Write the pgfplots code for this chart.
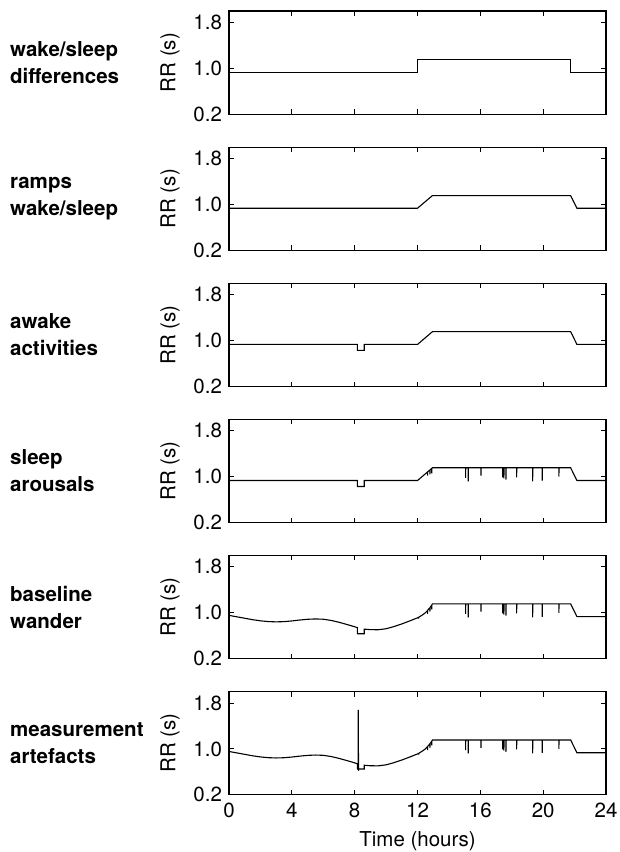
\documentclass[border=0pt]{standalone}
\usepackage{fontspec}
\setmainfont{TeX Gyre Heros}
\usepackage{pgfplots}
\pgfplotsset{compat=1.18}
\pgfplotsset{
 panel/.style={
  scale only axis, width=377bp, height=103.3bp,
  anchor=north west,
  xmin=0,xmax=24, ymin=0.2,ymax=2.0,
  xtick={0,4,...,24}, ytick={0.2,1.0,1.8},
  yticklabel style={/pgf/number format/.cd,fixed,fixed zerofill,precision=1},
  xticklabel style={yshift=-1bp},
  tick align=inside, major tick length=5bp,
  axis line style={line width=1.2bp}, tick style={line width=0.9bp,black},
  /pgf/number format/assume math mode=true,
  ylabel={RR (s)},
  ylabel style={at={(axis description cs:-0.112,0.5)},anchor=south},
  xlabel style={at={(axis description cs:0.5,0)},anchor=north,inner sep=0pt,yshift=-37bp},
  no markers,
  cycle list={{black}},
  every axis plot post/.append style={line width=1.1bp,line join=miter,miter limit=2},
 },
 notx/.style={xticklabel=\empty},
}
\begin{document}
\fontsize{20.5bp}{27bp}\selectfont
\begin{tikzpicture}
\useasboundingbox (0bp,0bp) rectangle (620bp,-852bp);
% panel 1
\begin{axis}[panel,notx,at={(229bp,-11bp)}]
\addplot coordinates {(0,0.935)(12,0.935)(12,1.157)(21.75,1.157)(21.75,0.935)(24,0.935)};
\end{axis}
% panel 2
\begin{axis}[panel,notx,at={(229bp,-147.1bp)}]
\addplot coordinates {(0,0.935)(12,0.935)(12.95,1.155)(21.75,1.155)(22.15,0.935)(24,0.935)};
\end{axis}
% panel 3
\begin{axis}[panel,notx,at={(229bp,-283.2bp)}]
\addplot coordinates {(0,0.933)(8.17,0.933)(8.17,0.83)(8.61,0.83)(8.61,0.933)(12,0.933)(12.95,1.155)(21.75,1.155)(22.15,0.933)(24,0.933)};
\end{axis}
% panel 4
\begin{axis}[panel,notx,at={(229bp,-419.3bp)}]
\addplot coordinates {(0,0.933)(8.17,0.933)(8.17,0.83)(8.61,0.83)(8.61,0.933)(12,0.933)
(12.64,1.083)(12.64,1.02)(12.65,1.085)(12.79,1.118)(12.79,1.04)(12.80,1.12)(12.91,1.146)(12.91,1.06)(12.92,1.148)(12.95,1.155)
(15.06,1.155)(15.06,0.98)(15.07,1.155)(15.23,1.155)(15.23,0.92)(15.24,1.155)(16.04,1.155)(16.04,1.02)(16.05,1.155)
(17.42,1.155)(17.42,0.99)(17.43,1.155)(17.5,1.155)(17.5,0.97)(17.51,1.155)(17.63,1.155)(17.63,0.95)(17.64,1.155)
(18.31,1.155)(18.31,0.99)(18.32,1.155)(19.33,1.155)(19.33,0.92)(19.34,1.155)(19.94,1.155)(19.94,0.93)(19.95,1.155)
(21.0,1.155)(21.0,1.0)(21.01,1.155)(21.75,1.155)(22.15,0.933)(24,0.933)};
\end{axis}
% panel 5
\begin{axis}[panel,notx,at={(229bp,-555.4bp)}]
\addplot coordinates {(0,0.955)(0.5,0.93)(1,0.905)(1.5,0.88)(2,0.86)(2.5,0.847)(3,0.842)(3.5,0.846)(4,0.858)(4.5,0.874)(5,0.887)(5.5,0.893)(6,0.888)(6.5,0.867)(7,0.835)(7.5,0.797)(8,0.757)(8.17,0.742)(8.17,0.635)(8.61,0.635)(8.61,0.715)(9,0.706)(9.5,0.705)(10,0.722)(10.5,0.76)(11,0.806)(11.5,0.858)(12,0.912)
(12.06,0.92)(12.07,0.90)(12.09,0.925)(12.3,0.96)(12.5,1.0)
(12.64,1.04)(12.64,0.98)(12.65,1.045)(12.79,1.09)(12.79,1.02)(12.80,1.095)(12.91,1.135)(12.91,1.06)(12.92,1.14)(12.95,1.155)
(15.06,1.155)(15.06,0.98)(15.07,1.155)(15.23,1.155)(15.23,0.92)(15.24,1.155)(16.04,1.155)(16.04,1.02)(16.05,1.155)
(17.42,1.155)(17.42,0.99)(17.43,1.155)(17.5,1.155)(17.5,0.97)(17.51,1.155)(17.63,1.155)(17.63,0.95)(17.64,1.155)
(18.31,1.155)(18.31,0.99)(18.32,1.155)(19.33,1.155)(19.33,0.92)(19.34,1.155)(19.94,1.155)(19.94,0.93)(19.95,1.155)
(21.0,1.155)(21.0,1.0)(21.01,1.155)(21.75,1.155)(22.15,0.933)(24,0.933)};
\end{axis}
% panel 6
\begin{axis}[panel,at={(229bp,-691.5bp)},xlabel={Time (hours)}]
\addplot coordinates {(0,0.955)(0.5,0.93)(1,0.905)(1.5,0.88)(2,0.86)(2.5,0.847)(3,0.842)(3.5,0.846)(4,0.858)(4.5,0.874)(5,0.887)(5.5,0.893)(6,0.888)(6.5,0.867)(7,0.835)(7.5,0.797)(8,0.757)(8.17,0.742)(8.17,0.66)(8.22,0.64)(8.23,1.68)(8.245,0.62)(8.26,0.65)(8.61,0.65)(8.61,0.715)(9,0.706)(9.5,0.705)(10,0.722)(10.5,0.76)(11,0.806)(11.5,0.858)(12,0.912)
(12.06,0.92)(12.07,0.90)(12.09,0.925)(12.3,0.96)(12.5,1.0)
(12.64,1.04)(12.64,0.98)(12.65,1.045)(12.79,1.09)(12.79,1.02)(12.80,1.095)(12.91,1.135)(12.91,1.06)(12.92,1.14)(12.95,1.155)
(15.06,1.155)(15.06,0.98)(15.07,1.155)(15.23,1.155)(15.23,0.92)(15.24,1.155)(16.04,1.155)(16.04,1.02)(16.05,1.155)
(17.42,1.155)(17.42,0.99)(17.43,1.155)(17.5,1.155)(17.5,0.97)(17.51,1.155)(17.63,1.155)(17.63,0.95)(17.64,1.155)
(18.31,1.155)(18.31,0.99)(18.32,1.155)(19.33,1.155)(19.33,0.92)(19.34,1.155)(19.94,1.155)(19.94,0.93)(19.95,1.155)
(21.0,1.155)(21.0,1.0)(21.01,1.155)(21.75,1.155)(22.15,0.933)(24,0.933)};
\end{axis}
% row labels
\begin{scope}[every node/.style={anchor=west,align=left,font=\bfseries,inner sep=0pt}]
\node at (10bp,-62.7bp) {wake/sleep\\differences};
\node at (10bp,-198.8bp) {ramps\\wake/sleep};
\node at (10bp,-334.9bp) {awake\\activities};
\node at (10bp,-471.0bp) {sleep\\arousals};
\node at (10bp,-607.1bp) {baseline\\wander};
\node at (10bp,-743.2bp) {measurement\\artefacts};
\end{scope}
\end{tikzpicture}
\end{document}
